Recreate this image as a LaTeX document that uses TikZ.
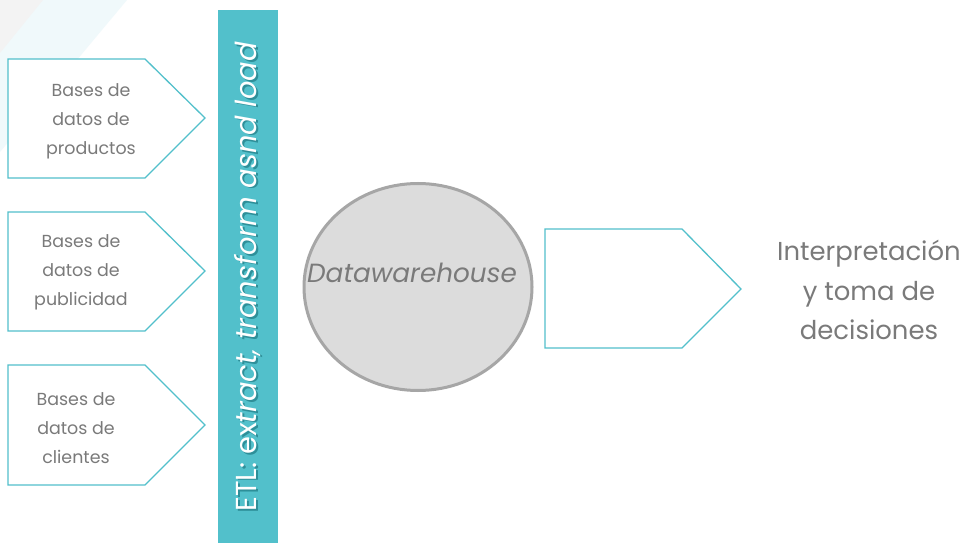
\documentclass[tikz,border=0pt]{standalone}
\usepackage{fontspec}
\setmainfont{Poppins}
\usetikzlibrary{calc,shapes.geometric}
\definecolor{teal}{HTML}{52C0CB}
\definecolor{tealdark}{HTML}{2E8F99}
\definecolor{txtgray}{HTML}{7A7A7A}
\definecolor{dwfill}{HTML}{DCDCDC}
\definecolor{dwdraw}{HTML}{A6A6A6}
\definecolor{bggray}{HTML}{F3F3F3}
\definecolor{bgcyan}{HTML}{F0F9FB}
\tikzset{
  pentabox/.style={draw=teal, line width=1.3bp, fill=white},
  srctext/.style={text=txtgray, align=center, font=\fontsize{17.5}{29}\selectfont, inner sep=0pt},
  bigtext/.style={text=txtgray, align=center, font=\fontsize{26}{40}\selectfont, inner sep=0pt},
  etlfont/.style={rotate=90, font=\fontsize{29}{32}\selectfont, inner sep=0pt},
}
\begin{document}
\begin{tikzpicture}[x=1bp,y=-1bp]
\useasboundingbox (0,0) rectangle (964,543);
\fill[white] (0,0) rectangle (964,543);
% faint background shapes
\fill[bgcyan] (0,0) -- (127,0) -- (0,152) -- cycle;
\fill[bggray] (0,0) -- (43,0) -- (0,53) -- cycle;
% source pentagons
\draw[pentabox] (8,59) -- (145,59) -- (205,118) -- (145,178) -- (8,178) -- cycle;
\draw[pentabox] (8,212) -- (145,212) -- (205,271) -- (145,331) -- (8,331) -- cycle;
\draw[pentabox] (8,365) -- (145,365) -- (205,425) -- (145,485) -- (8,485) -- cycle;
\node[srctext] (prod) at (91,121) {Bases de\\datos de\\productos};
\node[srctext] (publ) at (81,272) {Bases de\\datos de\\publicidad};
\node[srctext] (clie) at (76,428) {Bases de\\datos de\\clientes};
% ETL bar
\fill[teal] (218,10) rectangle (278,543);
\node[etlfont, text=tealdark] (etlshadow) at (249.5,278.5) {ETL: ex\textit{tract, transform asnd load}};
\node[etlfont, text=white] (etl) at (248,277) {ETL: ex\textit{tract, transform asnd load}};
% datawarehouse
\node[ellipse, draw=dwdraw, fill=dwfill, line width=3bp, minimum width=228bp, minimum height=207bp, inner sep=0pt] (dw) at (418,287) {};
\node[text=txtgray, font=\fontsize{26.4}{30}\itshape\selectfont, inner sep=0pt] (dwtext) at (412,273) {Datawarehouse};
% output pentagon
\draw[pentabox] (545,229) -- (682,229) -- (741,289) -- (682,348) -- (545,348) -- cycle;
\node[bigtext] (out) at (869,290) {Interpretación\\y toma de\\decisiones};
\end{tikzpicture}
\end{document}
